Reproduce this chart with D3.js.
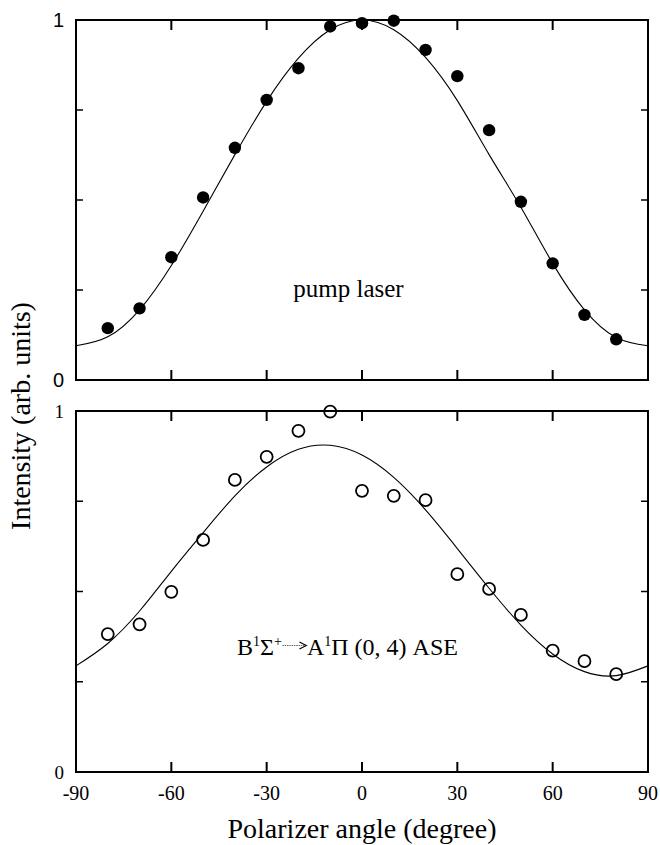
<!DOCTYPE html>
<html><head><meta charset="utf-8">
<script src="https://cdn.jsdelivr.net/npm/d3@7/dist/d3.min.js"></script>
</head><body style="margin:0">
<script>
// ---- data ----
const angles = [-80,-70,-60,-50,-40,-30,-20,-10,0,10,20,30,40,50,60,70,80];
const pumpValues = [0.144,0.199,0.341,0.507,0.645,0.778,0.866,0.982,0.991,0.998,0.917,0.844,0.694,0.495,0.324,0.181,0.113];
const aseValues  = [0.382,0.409,0.499,0.643,0.809,0.873,0.945,0.998,0.779,0.765,0.753,0.548,0.507,0.435,0.336,0.307,0.271];
const fitAngles = [-90,-80,-70,-60,-50,-40,-30,-20,-10,0,10,20,30,40,50,60,70,80,90];
const pumpFit = [0.095,0.120,0.195,0.318,0.469,0.626,0.774,0.894,0.973,1.0,0.973,0.896,0.776,0.626,0.480,0.324,0.195,0.118,0.095];
const aseFit  = [0.294,0.356,0.446,0.556,0.663,0.765,0.845,0.894,0.905,0.878,0.816,0.726,0.619,0.509,0.407,0.327,0.278,0.267,0.294];
const xTicks = [-90,-60,-30,0,30,60,90];
const yTicks = [0,0.25,0.5,0.75,1];

const SERIF = '"Liberation Serif"';
const SANS = '"Liberation Sans"';
const W = 660, H = 845;
const svg = d3.select("body").append("svg").attr("width", W).attr("height", H).style("display","block");
const x = d3.scaleLinear().domain([-90,90]).range([76,648]);

function panel(top, bottom, pts, fit, filled, sansLabels) {
  const y = d3.scaleLinear().domain([0,1]).range([bottom, top]);
  const g = svg.append("g");
  const line = d3.line().x((d,i)=>x(fitAngles[i])).y(d=>y(d)).curve(d3.curveNatural);
  g.append("path").datum(fit).attr("d", line).attr("fill","none").attr("stroke","#000").attr("stroke-width",1.1);
  g.append("g").selectAll("circle").data(pts).join("circle")
    .attr("cx",(d,i)=>x(angles[i])).attr("cy",d=>y(d)).attr("r", filled ? 6.2 : 6)
    .attr("fill", filled ? "#000" : "none").attr("stroke","#000").attr("stroke-width", filled ? 0 : 1.8);
  g.append("rect").attr("x",76).attr("y",top).attr("width",572).attr("height",bottom-top)
    .attr("fill","none").attr("stroke","#000").attr("stroke-width",2);
  const xt = xTicks.filter(t=>t>-90 && t<90);
  g.selectAll(".xb").data(xt).join("line").attr("x1",d=>x(d)).attr("x2",d=>x(d))
    .attr("y1",bottom).attr("y2",bottom-10).attr("stroke","#000").attr("stroke-width",2);
  g.selectAll(".xt").data(xt).join("line").attr("x1",d=>x(d)).attr("x2",d=>x(d))
    .attr("y1",top).attr("y2",top+10).attr("stroke","#000").attr("stroke-width",2);
  const yt = yTicks.filter(t=>t>0 && t<1);
  g.selectAll(".yl").data(yt).join("line").attr("x1",76).attr("x2",83)
    .attr("y1",d=>y(d)).attr("y2",d=>y(d)).attr("stroke","#000").attr("stroke-width",1.5);
  g.selectAll(".yr").data(yt).join("line").attr("x1",648).attr("x2",641)
    .attr("y1",d=>y(d)).attr("y2",d=>y(d)).attr("stroke","#000").attr("stroke-width",1.5);
  g.selectAll(".ylab").data([0,1]).join("text").attr("x",64).attr("y",d=>y(d))
    .attr("dy","0.35em").attr("text-anchor","end")
    .style("font-family", sansLabels ? SANS : SERIF)
    .attr("font-size", sansLabels ? 20 : 19).text(d=>d);
  return {g, y};
}

panel(20, 380, pumpValues, pumpFit, true, true);
panel(411, 772, aseValues, aseFit, false, false);

svg.append("g").selectAll("text").data(xTicks).join("text")
  .attr("x",d=>x(d)).attr("y",800).attr("text-anchor","middle")
  .style("font-family",SERIF).attr("font-size",20).text(d=>d);

svg.append("text").attr("x",362).attr("y",838).attr("text-anchor","middle")
  .style("font-family",SERIF).attr("font-size",28).text("Polarizer angle (degree)");
svg.append("text").attr("transform","translate(30,416) rotate(-90)").attr("text-anchor","middle")
  .style("font-family",SERIF).attr("font-size",28).text("Intensity (arb. units)");

svg.append("text").attr("x",348.5).attr("y",297).attr("text-anchor","middle")
  .style("font-family",SERIF).attr("font-size",25).text("pump laser");

// ASE label: B¹Σ⁺ → A¹Π (0, 4) ASE
const t1 = svg.append("text").attr("x",237).attr("y",655).style("font-family",SERIF).attr("font-size",24);
t1.append("tspan").text("B");
t1.append("tspan").attr("font-size",14).attr("dy",-9).text("1");
t1.append("tspan").attr("dy",9).text("Σ");
t1.append("tspan").attr("font-size",14).attr("dy",-9).text("+");
const w1 = t1.node().getComputedTextLength();
const ax0 = 237 + w1 + 0.5, ax1 = Math.max(ax0 + 24, 302);
svg.append("line").attr("x1",ax0).attr("x2",ax1-2).attr("y1",645.5).attr("y2",645.5)
  .attr("stroke","#555").attr("stroke-width",0.9).attr("stroke-dasharray","1.5,0.8");
svg.append("path").attr("d",`M${ax1-7},642 L${ax1},645.5 L${ax1-7},649`)
  .attr("fill","none").attr("stroke","#000").attr("stroke-width",1.1);
const t2 = svg.append("text").attr("x",ax1+0.5).attr("y",655).style("font-family",SERIF).attr("font-size",24);
t2.append("tspan").text("A");
t2.append("tspan").attr("font-size",14).attr("dy",-9).text("1");
t2.append("tspan").attr("dy",9).text("Π (0, 4) ASE");
</script>
</body></html>
